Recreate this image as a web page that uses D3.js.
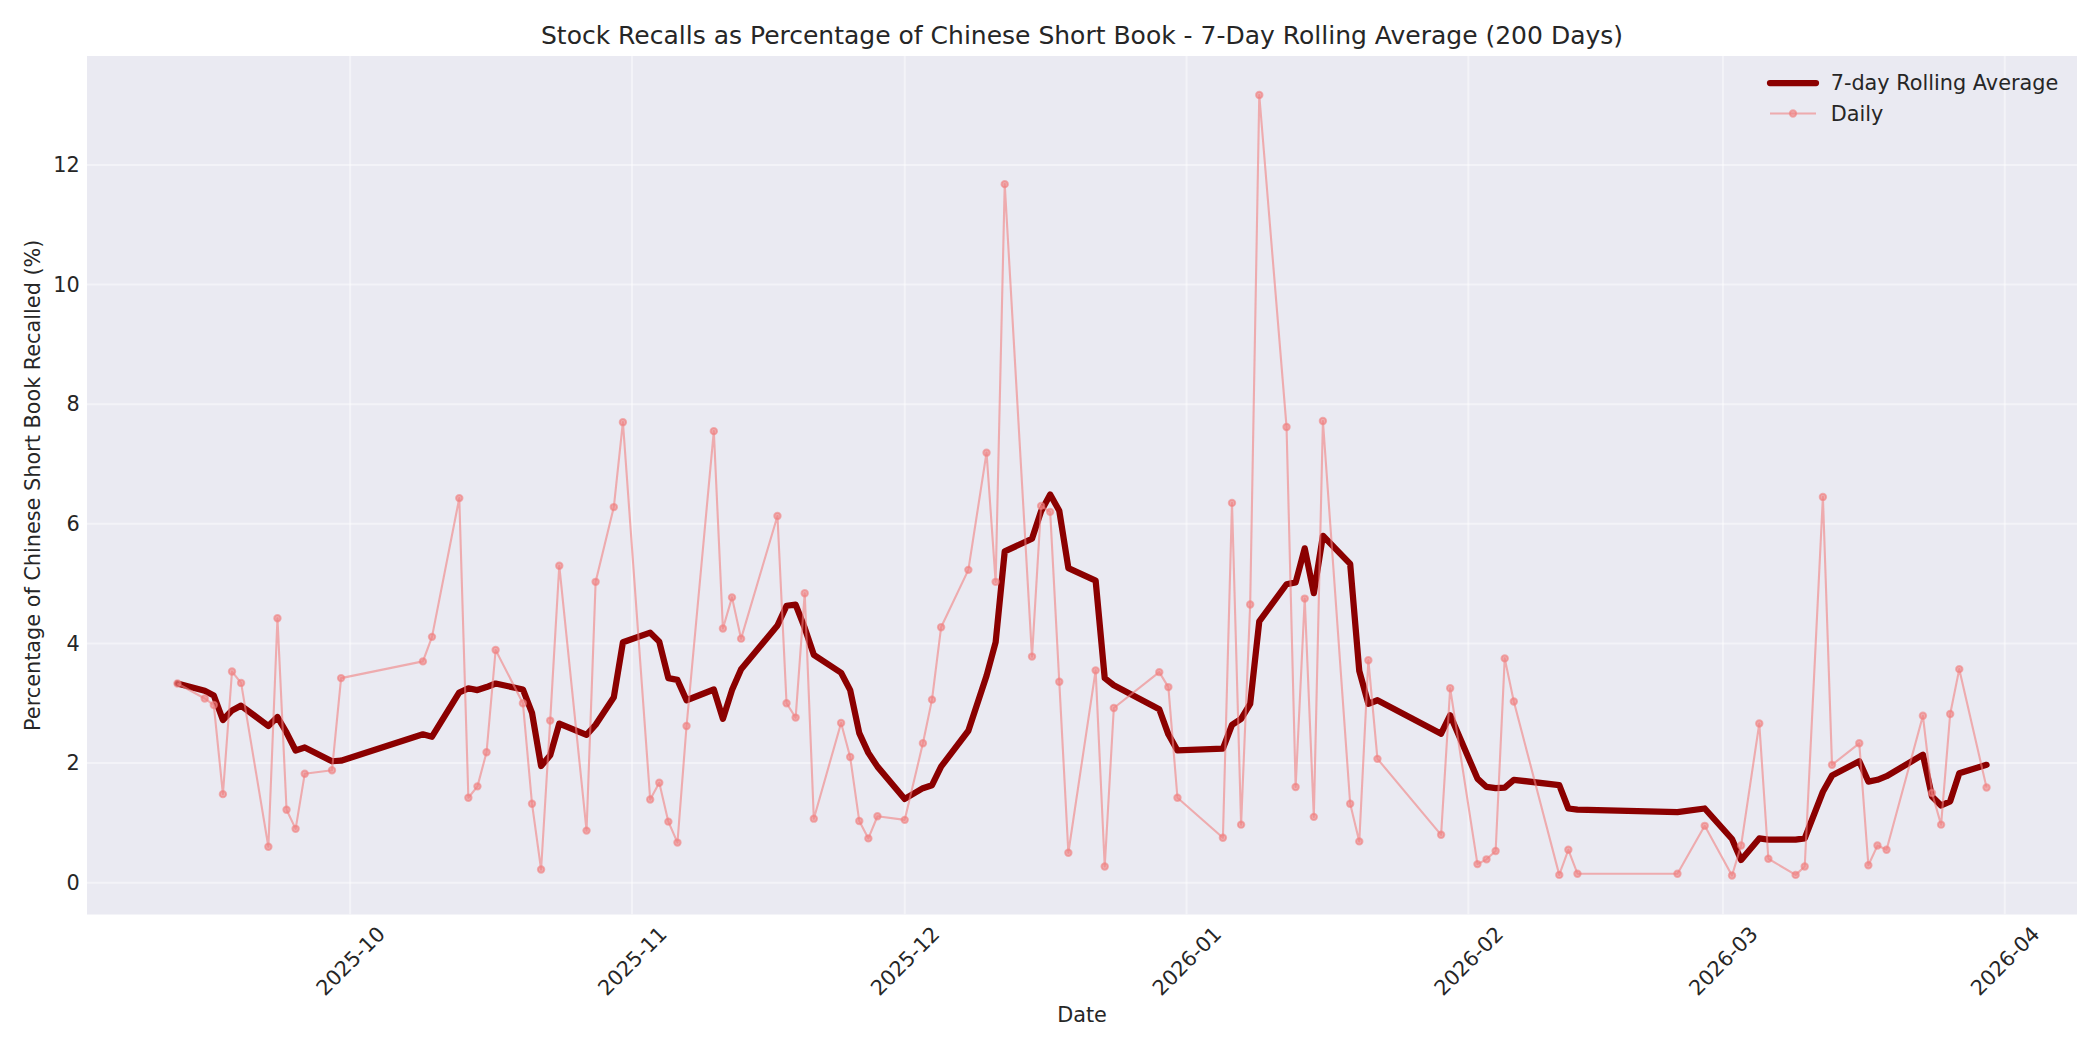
<!DOCTYPE html>
<html>
<head>
<meta charset="utf-8">
<script src="https://cdn.jsdelivr.net/npm/d3@7"></script>
<style>
  html, body { margin: 0; padding: 0; background: #ffffff; }
  svg { display: block; }
  text { font-family: "DejaVu Sans", sans-serif; fill: #262626; }
</style>
</head>
<body>
<svg id="chart" width="2100" height="1050"></svg>
<script>
// ---------------- DATA ----------------
const dates = [
  "2025-09-12","2025-09-15","2025-09-16","2025-09-17","2025-09-18","2025-09-19","2025-09-22","2025-09-23","2025-09-24","2025-09-25","2025-09-26","2025-09-29","2025-09-30",
  "2025-10-09","2025-10-10","2025-10-13","2025-10-14","2025-10-15","2025-10-16","2025-10-17","2025-10-20","2025-10-21","2025-10-22","2025-10-23","2025-10-24","2025-10-27","2025-10-28","2025-10-30","2025-10-31",
  "2025-11-03","2025-11-04","2025-11-05","2025-11-06","2025-11-07","2025-11-10","2025-11-11","2025-11-12","2025-11-13","2025-11-17","2025-11-18","2025-11-19","2025-11-20","2025-11-21","2025-11-24","2025-11-25","2025-11-26","2025-11-27","2025-11-28",
  "2025-12-01","2025-12-03","2025-12-04","2025-12-05","2025-12-08","2025-12-10","2025-12-11","2025-12-12","2025-12-15","2025-12-16","2025-12-17","2025-12-18","2025-12-19","2025-12-22","2025-12-23","2025-12-24","2025-12-29","2025-12-30","2025-12-31",
  "2026-01-05","2026-01-06","2026-01-07","2026-01-08","2026-01-09","2026-01-12","2026-01-13","2026-01-14","2026-01-15","2026-01-16","2026-01-19","2026-01-20","2026-01-21","2026-01-22","2026-01-29","2026-01-30",
  "2026-02-02","2026-02-03","2026-02-04","2026-02-05","2026-02-06","2026-02-11","2026-02-12","2026-02-13","2026-02-24","2026-02-27",
  "2026-03-02","2026-03-03","2026-03-05","2026-03-06","2026-03-09","2026-03-10","2026-03-12","2026-03-13","2026-03-16","2026-03-17","2026-03-18","2026-03-19","2026-03-23","2026-03-24","2026-03-25","2026-03-26","2026-03-27","2026-03-30"
];

const dailyValues = [
  3.33,3.08,2.97,1.48,3.53,3.34,0.60,4.42,1.22,0.90,1.82,1.88,3.42,
  3.70,4.11,6.43,1.42,1.61,2.18,3.89,3.00,1.32,0.22,2.71,5.30,0.87,5.03,6.28,7.70,
  1.39,1.67,1.02,0.67,2.62,7.55,4.25,4.77,4.08,6.13,3.00,2.76,4.84,1.07,2.67,2.10,1.03,0.74,1.11,
  1.05,2.33,3.06,4.27,5.23,7.19,5.03,11.68,3.78,6.30,6.20,3.36,0.50,3.55,0.27,2.92,3.52,3.27,1.42,
  0.75,6.35,0.97,4.65,13.17,7.62,1.60,4.75,1.10,7.72,1.32,0.69,3.72,2.07,0.80,3.25,
  0.31,0.39,0.53,3.75,3.03,0.13,0.55,0.15,0.15,0.95,
  0.12,0.62,2.66,0.40,0.13,0.27,6.45,1.97,2.33,0.29,0.62,0.55,2.79,1.50,0.97,2.82,3.57,1.59
];

const rollingValues = [
  3.33,3.21,3.13,2.72,2.88,2.96,2.62,2.77,2.51,2.21,2.26,2.03,2.04,
  2.48,2.44,3.18,3.25,3.22,3.27,3.33,3.23,2.84,1.95,2.13,2.66,2.47,2.64,3.10,4.02,
  4.18,4.03,3.42,3.39,3.05,3.23,2.74,3.22,3.57,4.30,4.63,4.65,4.26,3.81,3.51,3.22,2.50,2.17,1.94,
  1.40,1.58,1.63,1.94,2.54,3.46,4.02,5.54,5.75,6.21,6.49,6.22,5.26,5.05,3.42,3.30,2.90,2.48,2.21,
  2.24,2.64,2.74,2.99,4.37,4.99,5.02,5.59,4.84,5.80,5.33,3.54,2.99,3.05,2.49,2.80,
  1.74,1.60,1.58,1.59,1.72,1.63,1.24,1.22,1.18,1.24,
  0.73,0.38,0.74,0.72,0.72,0.74,1.52,1.79,2.03,1.69,1.72,1.78,2.14,1.44,1.29,1.36,1.83,1.97
];

const yTickValues = [0, 2, 4, 6, 8, 10, 12];
const xTickLabels = ["2025-10","2025-11","2025-12","2026-01","2026-02","2026-03","2026-04"];

const titleText = "Stock Recalls as Percentage of Chinese Short Book - 7-Day Rolling Average (200 Days)";
const xLabelText = "Date";
const yLabelText = "Percentage of Chinese Short Book Recalled (%)";
const seriesNames = ["7-day Rolling Average", "Daily"];

// ---------------- LAYOUT ----------------
const W = 2100, H = 1050;
const plot = { left: 87, right: 2077, top: 56, bottom: 914.5 };
const fontSize = 20.8;
const titleSize = 25;
const tickPad = 7.3;

const parse = d3.utcParse("%Y-%m-%d");
const rows = dates.map((d, i) => ({ date: parse(d), daily: dailyValues[i], rolling: rollingValues[i] }));

const svg = d3.select("#chart");

// x scale with 5% margins (matplotlib default)
const xExt = d3.extent(rows, d => d.date);
const xSpan = xExt[1] - xExt[0];
const x = d3.scaleUtc()
  .domain([new Date(+xExt[0] - 0.05 * xSpan), new Date(+xExt[1] + 0.05 * xSpan)])
  .range([plot.left, plot.right]);

const allY = dailyValues.concat(rollingValues);
const yMin = d3.min(allY), yMax = d3.max(allY);
const ySpan = yMax - yMin;
const y = d3.scaleLinear()
  .domain([yMin - 0.05 * ySpan, yMax + 0.05 * ySpan])
  .range([plot.bottom, plot.top]);

// axes background
svg.append("rect")
  .attr("x", plot.left).attr("y", plot.top)
  .attr("width", plot.right - plot.left).attr("height", plot.bottom - plot.top)
  .attr("fill", "#EAEAF2");

const clip = svg.append("defs").append("clipPath").attr("id", "plotclip");
clip.append("rect")
  .attr("x", plot.left).attr("y", plot.top)
  .attr("width", plot.right - plot.left).attr("height", plot.bottom - plot.top);

// grid
const xTicks = xTickLabels.map(s => parse(s + "-01"));
const grid = svg.append("g").attr("clip-path", "url(#plotclip)");
grid.selectAll("line.gy").data(yTickValues).join("line")
  .attr("x1", plot.left).attr("x2", plot.right)
  .attr("y1", d => y(d)).attr("y2", d => y(d))
  .attr("stroke", "#ffffff").attr("stroke-opacity", 0.45).attr("stroke-width", 2);
grid.selectAll("line.gx").data(xTicks).join("line")
  .attr("y1", plot.top).attr("y2", plot.bottom)
  .attr("x1", d => x(d)).attr("x2", d => x(d))
  .attr("stroke", "#ffffff").attr("stroke-opacity", 0.45).attr("stroke-width", 2);

// y axis labels
const yAxis = svg.append("g")
  .attr("transform", `translate(${plot.left},0)`)
  .call(d3.axisLeft(y).tickValues(yTickValues).tickFormat(d3.format("d")).tickSize(0).tickPadding(tickPad));
yAxis.select(".domain").remove();
yAxis.selectAll("text")
  .attr("font-size", fontSize)
  .attr("font-family", "DejaVu Sans, sans-serif")
  .attr("fill", "#262626");

// x axis labels (rotated 45°, centered like matplotlib ha='center')
const xAxis = svg.append("g")
  .attr("transform", `translate(0,${plot.bottom})`)
  .call(d3.axisBottom(x).tickValues(xTicks).tickFormat((d, i) => xTickLabels[i]).tickSize(0).tickPadding(0));
xAxis.select(".domain").remove();
xAxis.selectAll("text")
  .attr("font-size", fontSize)
  .attr("font-family", "DejaVu Sans, sans-serif")
  .attr("fill", "#262626")
  .attr("text-anchor", "middle")
  .attr("dy", null)
  .attr("y", 0)
  .attr("dominant-baseline", "central")
  .each(function () {
    const w = this.getComputedTextLength();
    const h = fontSize * 1.17;
    const bb = (w + h) / Math.SQRT2;
    d3.select(this).attr("transform", `translate(0,${tickPad + bb / 2}) rotate(-45)`);
  });

// lines
const plotG = svg.append("g").attr("clip-path", "url(#plotclip)");

const rollLine = d3.line().x(d => x(d.date)).y(d => y(d.rolling));
plotG.append("path")
  .datum(rows)
  .attr("d", rollLine)
  .attr("fill", "none")
  .attr("stroke", "#8B0000")
  .attr("stroke-width", 6.25)
  .attr("stroke-linejoin", "round")
  .attr("stroke-linecap", "round");

const dailyColor = "#F08080";
const dailyAlpha = 0.6;
const dailyLine = d3.line().x(d => x(d.date)).y(d => y(d.daily));
plotG.append("path")
  .datum(rows)
  .attr("d", dailyLine)
  .attr("fill", "none")
  .attr("stroke", dailyColor)
  .attr("stroke-opacity", dailyAlpha)
  .attr("stroke-width", 2.1)
  .attr("stroke-linejoin", "round");

plotG.selectAll("circle.daily").data(rows).join("circle")
  .attr("class", "daily")
  .attr("cx", d => x(d.date))
  .attr("cy", d => y(d.daily))
  .attr("r", 3.2)
  .attr("fill", dailyColor).attr("fill-opacity", dailyAlpha)
  .attr("stroke", dailyColor).attr("stroke-opacity", dailyAlpha)
  .attr("stroke-width", 2);

// title & labels
svg.append("text")
  .attr("x", (plot.left + plot.right) / 2).attr("y", 43.5)
  .attr("text-anchor", "middle")
  .attr("font-size", titleSize)
  .text(titleText);

svg.append("text")
  .attr("x", (plot.left + plot.right) / 2).attr("y", 1015)
  .attr("text-anchor", "middle")
  .attr("dominant-baseline", "central")
  .attr("font-size", fontSize)
  .text(xLabelText);

svg.append("text")
  .attr("transform", `translate(33,${(plot.top + plot.bottom) / 2}) rotate(-90)`)
  .attr("text-anchor", "middle")
  .attr("dominant-baseline", "central")
  .attr("font-size", fontSize)
  .text(yLabelText);

// legend
const leg = svg.append("g");
const hx1 = 1770, hx2 = 1816, tx = 1830.7;
const ly = [83, 113.5];
leg.append("line")
  .attr("x1", hx1).attr("x2", hx2).attr("y1", ly[0]).attr("y2", ly[0])
  .attr("stroke", "#8B0000").attr("stroke-width", 6.25).attr("stroke-linecap", "round");
leg.append("line")
  .attr("x1", hx1).attr("x2", hx2).attr("y1", ly[1]).attr("y2", ly[1])
  .attr("stroke", dailyColor).attr("stroke-opacity", dailyAlpha).attr("stroke-width", 2.1);
leg.append("circle")
  .attr("cx", (hx1 + hx2) / 2).attr("cy", ly[1]).attr("r", 3.2)
  .attr("fill", dailyColor).attr("fill-opacity", dailyAlpha)
  .attr("stroke", dailyColor).attr("stroke-opacity", dailyAlpha).attr("stroke-width", 2);
leg.selectAll("text.leg").data(seriesNames).join("text")
  .attr("class", "leg")
  .attr("x", tx).attr("y", (d, i) => ly[i])
  .attr("dominant-baseline", "central")
  .attr("font-size", fontSize)
  .text(d => d);
</script>
</body>
</html>
